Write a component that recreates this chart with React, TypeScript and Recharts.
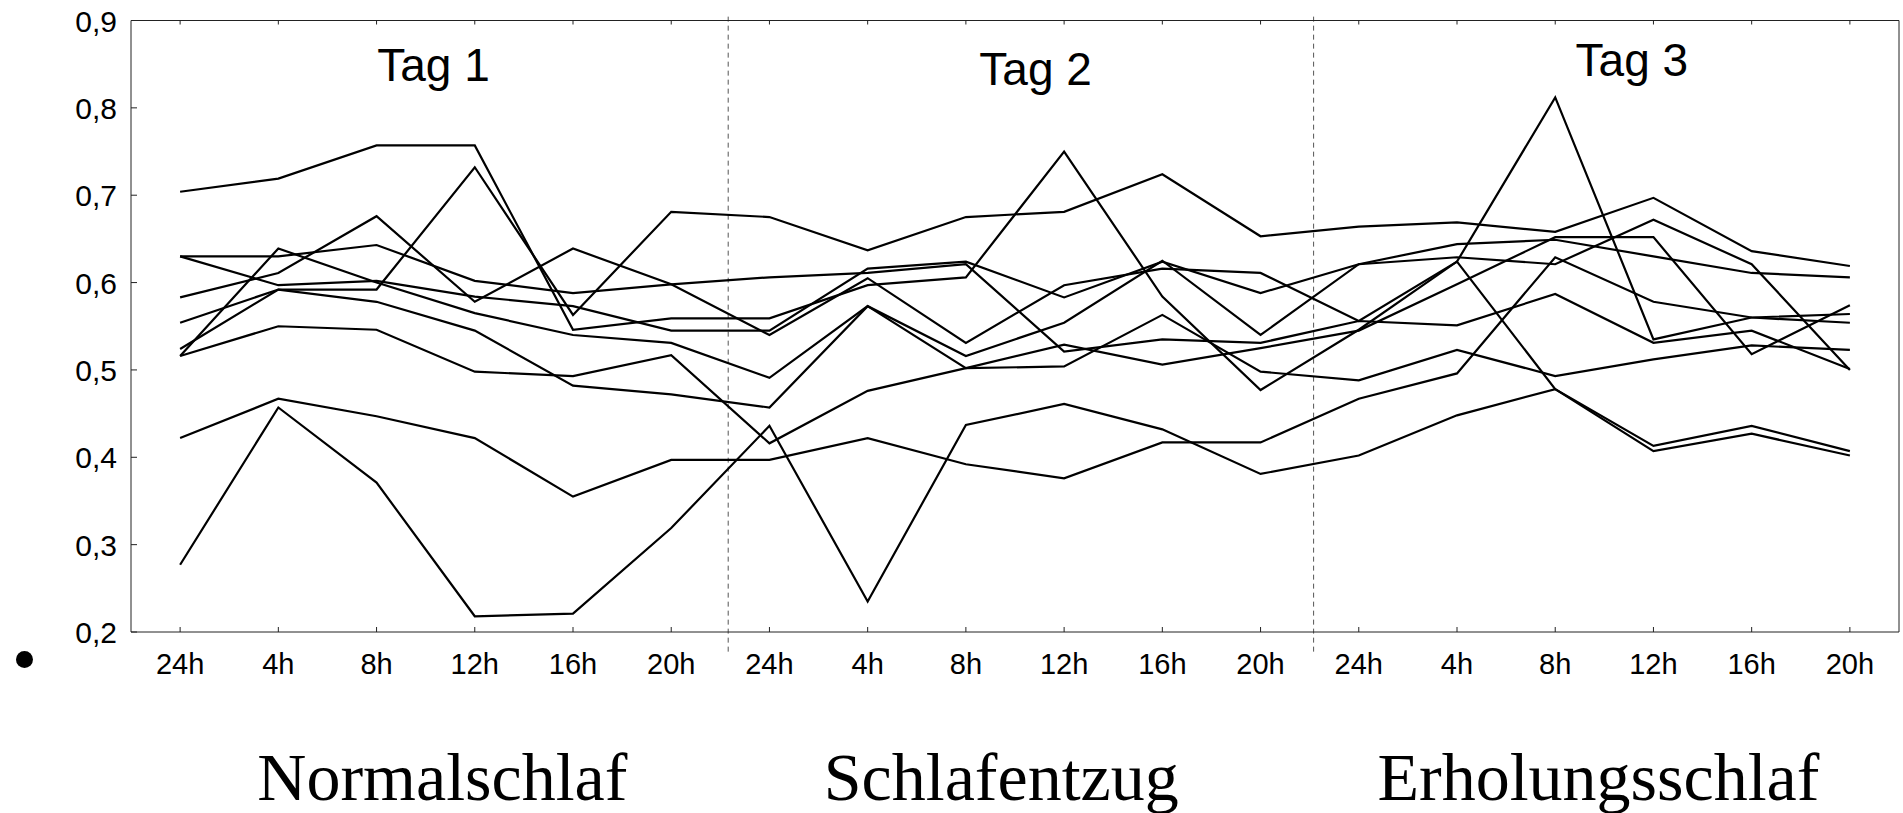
import React from "react";
import { LineChart, Line, XAxis, YAxis, ReferenceLine, ReferenceDot } from "recharts";

// measurement times, three days of six samples each
const hours = [
  "24h", "4h", "8h", "12h", "16h", "20h",
  "24h", "4h", "8h", "12h", "16h", "20h",
  "24h", "4h", "8h", "12h", "16h", "20h",
];

// one curve per subject
const s01 = [0.704, 0.719, 0.757, 0.757, 0.546, 0.559, 0.559, 0.597, 0.606, 0.75, 0.584, 0.477, 0.546, 0.624, 0.812, 0.535, 0.56, 0.564];
const s02 = [0.524, 0.592, 0.592, 0.732, 0.563, 0.681, 0.675, 0.637, 0.675, 0.681, 0.724, 0.653, 0.664, 0.669, 0.658, 0.697, 0.636, 0.619];
const s03 = [0.63, 0.63, 0.643, 0.602, 0.588, 0.598, 0.606, 0.611, 0.621, 0.521, 0.535, 0.531, 0.556, 0.551, 0.587, 0.531, 0.545, 0.501];
const s04 = [0.63, 0.597, 0.602, 0.584, 0.573, 0.545, 0.545, 0.616, 0.624, 0.583, 0.624, 0.588, 0.621, 0.644, 0.649, 0.63, 0.611, 0.606];
const s05 = [0.583, 0.611, 0.676, 0.578, 0.639, 0.598, 0.54, 0.605, 0.531, 0.597, 0.616, 0.611, 0.556, 0.624, 0.478, 0.413, 0.436, 0.407];
const s06 = [0.516, 0.639, 0.6, 0.565, 0.54, 0.531, 0.491, 0.573, 0.516, 0.554, 0.625, 0.54, 0.621, 0.629, 0.621, 0.672, 0.621, 0.5];
const s07 = [0.516, 0.55, 0.546, 0.498, 0.493, 0.517, 0.416, 0.476, 0.502, 0.529, 0.506, 0.525, 0.545, 0.598, 0.652, 0.652, 0.518, 0.574];
const s08 = [0.554, 0.592, 0.578, 0.545, 0.482, 0.472, 0.457, 0.573, 0.502, 0.504, 0.563, 0.498, 0.488, 0.523, 0.493, 0.512, 0.528, 0.523];
const s09 = [0.422, 0.467, 0.447, 0.422, 0.355, 0.397, 0.397, 0.422, 0.392, 0.376, 0.417, 0.417, 0.467, 0.496, 0.629, 0.578, 0.56, 0.554];
const s10 = [0.277, 0.457, 0.371, 0.218, 0.221, 0.319, 0.436, 0.235, 0.437, 0.461, 0.432, 0.381, 0.402, 0.448, 0.478, 0.407, 0.427, 0.402];

const subjects = { s01, s02, s03, s04, s05, s06, s07, s08, s09, s10 };

const yTicks = [0.2, 0.3, 0.4, 0.5, 0.6, 0.7, 0.8, 0.9];
const dayTitles = ["Tag 1", "Tag 2", "Tag 3"];
const phases = ["Normalschlaf", "Schlafentzug", "Erholungsschlaf"];

// where the day separators and titles sit, in axis units
const dayBreaks = [5.58, 11.54];
const titleX = [2.58, 8.71, 14.78];
const titleY = [0.831, 0.826, 0.837];
const phaseX = [2.67, 8.36, 14.44];
const phaseY = 0.008;

const xTicks = hours.map((_, i) => i);
const minorTicks = Array.from({ length: 29 }, (_, i) => Math.round((0.2 + i * 0.025) * 1000) / 1000);

const data = hours.map((h, i) => {
  const row: Record<string, number | string> = { x: i, label: h };
  Object.entries(subjects).forEach(([k, v]) => (row[k] = v[i]));
  return row;
});

const sans = "'Liberation Sans', Arial, sans-serif";
const serif = "'Liberation Serif', 'Times New Roman', serif";
const frame = "#222";

const BottomTick = (p: any) => (
  <g>
    <line x1={p.x} x2={p.x} y1={p.y} y2={p.y - 5} stroke={frame} />
    <text x={p.x} y={p.y + 42} textAnchor="middle" fontSize={29} fontFamily={sans} fill="#000">
      {hours[p.payload.value]}
    </text>
  </g>
);

const TopTick = (p: any) => <line x1={p.x} x2={p.x} y1={p.y} y2={p.y + 4} stroke={frame} />;

const LeftTick = (p: any) => (
  <g>
    <line x1={p.x} x2={p.x + 6} y1={p.y} y2={p.y} stroke={frame} />
    <text x={p.x - 14} y={p.y + 11} textAnchor="end" fontSize={30} fontFamily={sans} fill="#000">
      {p.payload.value.toFixed(1).replace(".", ",")}
    </text>
  </g>
);

const RightTick = (p: any) => {
  const major = Math.abs(p.payload.value * 10 - Math.round(p.payload.value * 10)) < 1e-6;
  return <line x1={p.x} x2={p.x - (major ? 6 : 3)} y1={p.y} y2={p.y} stroke={frame} />;
};

export default function App() {
  return (
    <div style={{ position: "absolute", left: 0, top: 0, width: 1903, height: 813, background: "#fff" }}>
      <LineChart width={1903} height={813} data={data} margin={{ top: 19.5, right: 3, bottom: 121, left: 31 }}>
        <XAxis
          dataKey="x"
          type="number"
          domain={[-0.5, 17.5]}
          ticks={xTicks}
          interval={0}
          height={60}
          tickSize={0}
          tickMargin={0}
          tick={BottomTick}
          axisLine={{ stroke: frame }}
        />
        <XAxis
          xAxisId="top"
          orientation="top"
          dataKey="x"
          type="number"
          domain={[-0.5, 17.5]}
          ticks={xTicks}
          interval={0}
          height={1}
          tickSize={0}
          tickMargin={0}
          tick={TopTick}
          axisLine={{ stroke: frame }}
        />
        <YAxis
          type="number"
          domain={[0.2, 0.9]}
          ticks={yTicks}
          interval={0}
          width={100}
          tickSize={0}
          tickMargin={0}
          tick={LeftTick}
          axisLine={{ stroke: frame }}
        />
        <YAxis
          yAxisId="right"
          orientation="right"
          type="number"
          domain={[0.2, 0.9]}
          ticks={minorTicks}
          interval={0}
          width={1}
          tickSize={0}
          tickMargin={0}
          tick={RightTick}
          axisLine={{ stroke: frame }}
        />

        {dayBreaks.map((b) => (
          <ReferenceLine
            key={b}
            segment={[{ x: b, y: 0.1775 }, { x: b, y: 0.906 }]}
            stroke="#555"
            strokeDasharray="5 4"
            ifOverflow="visible"
          />
        ))}

        {Object.keys(subjects).map((k) => (
          <Line
            key={k}
            dataKey={k}
            type="linear"
            stroke="#000"
            strokeWidth={2.2}
            dot={false}
            activeDot={false}
            isAnimationActive={false}
          />
        ))}

        {dayTitles.map((t, i) => (
          <ReferenceDot
            key={t}
            x={titleX[i]}
            y={titleY[i]}
            r={0}
            ifOverflow="visible"
            shape={(p: any) => (
              <text x={p.cx} y={p.cy} textAnchor="middle" fontSize={46} fontFamily={sans} fill="#000">
                {t}
              </text>
            )}
          />
        ))}

        {phases.map((t, i) => (
          <ReferenceDot
            key={t}
            x={phaseX[i]}
            y={phaseY}
            r={0}
            ifOverflow="visible"
            shape={(p: any) => (
              <text x={p.cx} y={p.cy} textAnchor="middle" fontSize={68} fontFamily={serif} fill="#000">
                {t}
              </text>
            )}
          />
        ))}
      </LineChart>
      <div
        style={{
          position: "absolute",
          left: 15.5,
          top: 650.5,
          width: 17,
          height: 17,
          borderRadius: "50%",
          background: "#000",
        }}
      />
    </div>
  );
}
